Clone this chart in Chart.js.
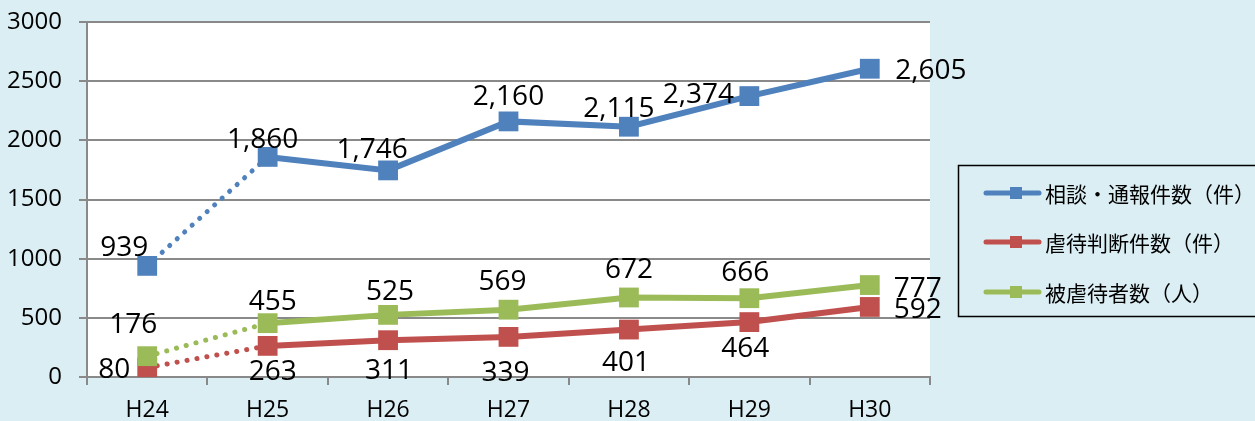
<!DOCTYPE html>
<html>
<head>
<meta charset="UTF-8">
<title>相談・通報件数の推移</title>
<script src="https://cdn.jsdelivr.net/npm/chart.js@4.4.1/dist/chart.umd.min.js"></script>
<style>
  body { margin: 0; background: #DAEEF3; }
  #wrap { width: 1255px; height: 421px; }
</style>
</head>
<body>
<div id="wrap"><canvas id="chart" width="1255" height="421"></canvas></div>
<script>
// data
var years = ['H24', 'H25', 'H26', 'H27', 'H28', 'H29', 'H30'];
var soudan = [939, 1860, 1746, 2160, 2115, 2374, 2605];     // 相談・通報件数（件）
var hantei = [80, 263, 311, 339, 401, 464, 592];            // 虐待判断件数（件）
var higaisha = [176, 455, 525, 569, 672, 666, 777];         // 被虐待者数（人）
var seriesNames = ['相談・通報件数（件）', '虐待判断件数（件）', '被虐待者数（人）'];
var yTicks = [0, 500, 1000, 1500, 2000, 2500, 3000];

var blue = '#4F81BD', red = '#C0504D', green = '#9BBB59';
var gridGray = '#898989';

// label offsets from the point centre (label centre), per series
var offBlue  = [[-23,-20],[-5,-19],[-16,-22],[0,-26],[-10,-20],[-51,-3],[61,0]];
var offRed   = [[-33,0],[5,24],[1,29],[-3,34],[-3,31],[-4,25],[48,1]];
var offGreen = [[-14,-33],[5,-23],[2,-25],[-6,-30],[0,-29],[-4,-27],[48,2]];

function dotted(ctx) {
  return ctx.p0DataIndex === 0 ? [0.1, 10] : undefined;
}
function makeSet(label, data, color, order) {
  return {
    label: label,
    data: data,
    borderColor: color,
    backgroundColor: color,
    borderWidth: 6,
    pointStyle: 'rect',
    pointRadius: 14,
    pointHoverRadius: 14,
    pointBorderWidth: 0,
    order: order,
    segment: {
      borderDash: dotted,
      borderWidth: function (ctx) { return ctx.p0DataIndex === 0 ? 5 : undefined; },
      borderCapStyle: function (ctx) { return ctx.p0DataIndex === 0 ? 'round' : undefined; }
    }
  };
}

var bgPlugin = {
  id: 'bg',
  beforeDraw: function (chart) {
    var c = chart.ctx, a = chart.chartArea;
    c.save();
    c.fillStyle = '#DAEEF3';
    c.fillRect(0, 0, chart.width, chart.height);
    c.fillStyle = '#FFFFFF';
    c.fillRect(a.left, a.top, a.right - a.left, a.bottom - a.top);
    c.restore();
  }
};

var labelPlugin = {
  id: 'valueLabels',
  afterDraw: function (chart) {
    var c = chart.ctx;
    var offs = [offBlue, offRed, offGreen];
    c.save();
    c.font = '28px "Open Sans"';
    c.fillStyle = '#000';
    c.textAlign = 'center';
    c.textBaseline = 'alphabetic';
    chart.data.datasets.forEach(function (ds, i) {
      var meta = chart.getDatasetMeta(i);
      meta.data.forEach(function (pt, j) {
        var txt = ds.data[j].toLocaleString('en-US');
        c.fillText(txt, pt.x + offs[i][j][0], pt.y + offs[i][j][1] + 10);
      });
    });
    c.restore();
  }
};

var legendPlugin = {
  id: 'boxLegend',
  afterDraw: function (chart) {
    var c = chart.ctx;
    var rows = [193, 242, 292];
    c.save();
    c.strokeStyle = '#000';
    c.lineWidth = 1.5;
    c.strokeRect(958.5, 165.5, 310, 151);
    chart.data.datasets.forEach(function (ds, i) {
      var y = rows[i];
      c.strokeStyle = ds.borderColor;
      c.lineWidth = 5;
      c.lineCap = 'round';
      c.beginPath();
      c.moveTo(986, y);
      c.lineTo(1039, y);
      c.stroke();
      c.fillStyle = ds.borderColor;
      c.fillRect(1010, y - 6, 12, 12);
      c.fillStyle = '#000';
      c.font = '21px "Noto Sans CJK JP"';
      c.textAlign = 'left';
      c.textBaseline = 'middle';
      c.fillText(seriesNames[i], 1045, y + 1);
    });
    c.restore();
  }
};

new Chart(document.getElementById('chart'), {
  type: 'line',
  data: {
    labels: years,
    datasets: [
      makeSet(seriesNames[0], soudan, blue, 0),
      makeSet(seriesNames[1], hantei, red, 2),
      makeSet(seriesNames[2], higaisha, green, 1)
    ]
  },
  options: {
    responsive: false,
    animation: false,
    devicePixelRatio: 1,
    layout: { padding: { left: 0, top: 22, right: 325, bottom: 0 } },
    plugins: {
      legend: { display: false },
      tooltip: { enabled: false }
    },
    scales: {
      x: {
        offset: true,
        grid: { display: true, drawOnChartArea: false, offset: true, tickLength: 8, color: gridGray, lineWidth: 2 },
        border: { color: gridGray, width: 2 },
        ticks: { color: '#000', font: { family: 'Open Sans', size: 23 }, padding: 12, maxRotation: 0 },
        afterFit: function (s) { s.height = 44; s.paddingLeft = 0; s.paddingRight = 0; }
      },
      y: {
        min: 0,
        max: 3000,
        afterBuildTicks: function (s) { s.ticks = yTicks.map(function (v) { return { value: v }; }); },
        grid: { color: gridGray, lineWidth: 2, tickLength: 8 },
        border: { color: gridGray, width: 2 },
        ticks: {
          color: '#000',
          font: { family: 'Open Sans', size: 24 },
          padding: 17,
          callback: function (v) { return String(v); }
        },
        afterFit: function (s) { s.width = 87; s.paddingTop = 0; s.paddingBottom = 0; }
      }
    }
  },
  plugins: [bgPlugin, labelPlugin, legendPlugin]
});
</script>
</body>
</html>
